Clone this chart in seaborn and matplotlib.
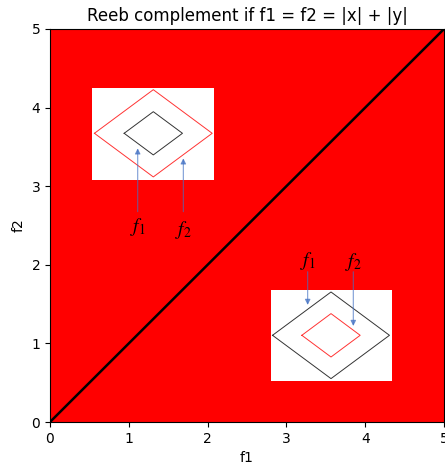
import numpy as np
import pandas as pd
import matplotlib
matplotlib.use('Agg')
import matplotlib.pyplot as plt
import seaborn as sns

# diagonal f1 = f2
diag_x = [0, 5]
diag_y = [0, 5]

# inset boxes: (x0, x1, y0, y1) in data units
box_upper = [0.533, 2.081, 3.079, 4.250]
box_lower = [2.805, 4.344, 0.525, 1.679]

# diamonds: center x, center y, half width, half height, colour
diamonds_upper = [(1.311, 3.673, 0.747, 0.555, 'red'), (1.311, 3.673, 0.370, 0.275, 'black')]
diamonds_lower = [(3.566, 1.103, 0.742, 0.551, 'black'), (3.566, 1.103, 0.370, 0.276, 'red')]

# arrows: label, x, y start, y tip, label y
arrows_upper = [('$f_1$', 1.113, 2.676, 3.482, 2.485), ('$f_2$', 1.692, 2.676, 3.355, 2.443)]
arrows_lower = [('$f_1$', 3.270, 1.912, 1.489, 2.052), ('$f_2$', 3.849, 1.912, 1.221, 2.040)]

plt.rcParams['mathtext.fontset'] = 'stix'

fig = plt.figure(figsize=(4.45, 4.67), dpi=100)
ax = fig.add_axes([50 / 445, 45 / 467, 394 / 445, 393 / 467])
ax.set_facecolor('red')

sns.lineplot(x=diag_x, y=diag_y, color='black', linewidth=1.8, ax=ax)

for box, diamonds, arrows in [(box_upper, diamonds_upper, arrows_upper),
                              (box_lower, diamonds_lower, arrows_lower)]:
    ax.fill_between([box[0], box[1]], box[2], box[3], color='white', zorder=3, linewidth=0)
    for cx, cy, hw, hh, col in diamonds:
        dx = [cx - hw, cx, cx + hw, cx, cx - hw]
        dy = [cy, cy + hh, cy, cy - hh, cy]
        ax.plot(dx, dy, color=col, linewidth=0.7, alpha=0.8, zorder=4)
    for lab, x, y0, y1, ly in arrows:
        ax.annotate('', xy=(x, y1), xytext=(x, y0),
                    arrowprops=dict(arrowstyle='-|>', color='#4472c4', alpha=0.7,
                                    lw=0.8, mutation_scale=8, shrinkA=0, shrinkB=0),
                    zorder=5)
        ax.text(x, ly, lab, ha='center', va='center', fontsize=14, color='black', zorder=5)

ax.set_xlim(0, 5)
ax.set_ylim(0, 5)
ax.set_xticks([0, 1, 2, 3, 4, 5])
ax.set_yticks([0, 1, 2, 3, 4, 5])
ax.set_xlabel('f1')
ax.set_ylabel('f2')
ax.set_title('Reeb complement if f1 = f2 = |x| + |y|')

fig.savefig('out.png', dpi=100)
